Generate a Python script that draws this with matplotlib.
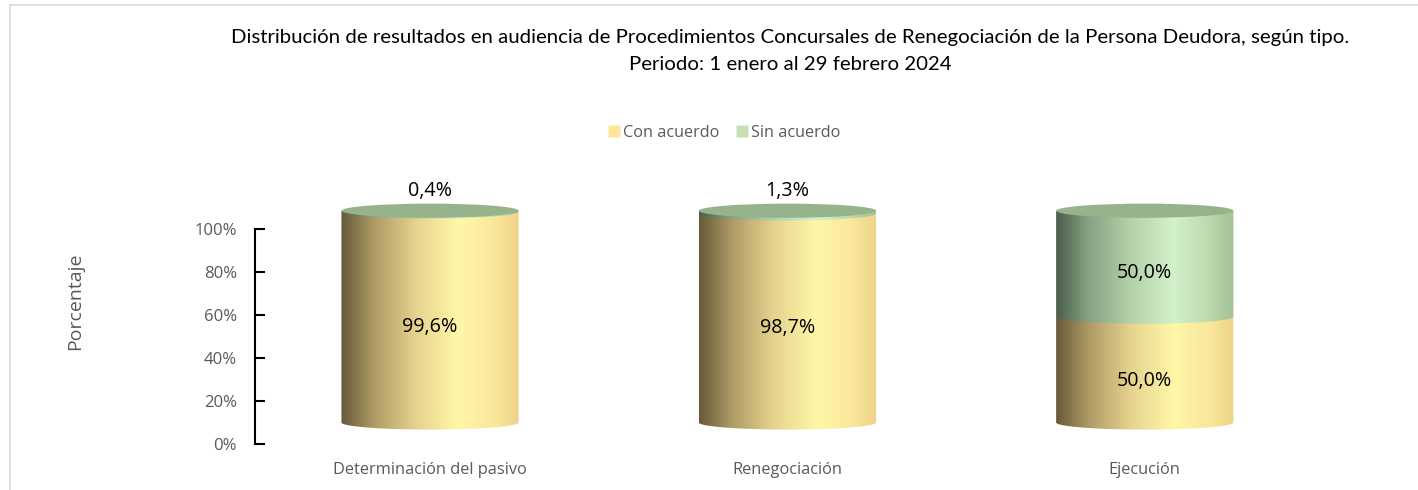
import numpy as np
import matplotlib.pyplot as plt
from matplotlib.path import Path
from matplotlib.patches import PathPatch, Ellipse
from matplotlib.colors import LinearSegmentedColormap
from matplotlib.lines import Line2D

plt.rcParams['font.family'] = ['Open Sans', 'DejaVu Sans']

# Datos
categorias = ['Determinación del pasivo', 'Renegociación', 'Ejecución']
con_acuerdo = [99.6, 98.7, 50.0]
sin_acuerdo = [0.4, 1.3, 50.0]
series = ['Con acuerdo', 'Sin acuerdo']
etiquetas_con = ['99,6%', '98,7%', '50,0%']
etiquetas_sin = ['0,4%', '1,3%', '50,0%']
ticks_y = [0, 20, 40, 60, 80, 100]

# Colores (gradiente horizontal tipo cilindro de Excel)
grad_amarillo = LinearSegmentedColormap.from_list('am', [
    (0.0, '#665a3a'), (0.18, '#ad9a65'), (0.42, '#e6d38e'),
    (0.66, '#fff7a8'), (0.85, '#fbe89c'), (1.0, '#eed489')])
grad_verde = LinearSegmentedColormap.from_list('ve', [
    (0.0, '#4a5e4b'), (0.18, '#86a283'), (0.42, '#b4d1a9'),
    (0.66, '#d3f1cb'), (0.85, '#bedbb0'), (1.0, '#a2c194')])
tapa_verde = '#97b38b'
leg_colores = ['#ffe699', '#c5e0b4']

fig = plt.figure(figsize=(14.18, 4.9), dpi=100)
ax = fig.add_axes([0.1798, 0.0939, 0.751, 0.5388])

x = np.arange(len(categorias))
ancho = 0.496          # ancho del cilindro (unidades de x)
b = 3.3                # semi-alto de la elipse (unidades de y)
desp = 10.0            # desplazamiento de profundidad 3D
esc = 0.985

gradiente = np.linspace(0, 1, 256).reshape(1, -1)


def segmento(xc, y0, y1, cmap):
    a = ancho / 2
    t = np.linspace(np.pi, 2 * np.pi, 60)
    pts = np.column_stack([xc + a * np.cos(t), y0 + b * np.sin(t)])
    pts = np.vstack([pts, [xc + a, y1], [xc - a, y1], pts[0]])
    codes = [Path.MOVETO] + [Path.LINETO] * (len(pts) - 2) + [Path.CLOSEPOLY]
    patch = PathPatch(Path(pts, codes), facecolor='none', edgecolor='none')
    ax.add_patch(patch)
    im = ax.imshow(gradiente, cmap=cmap, aspect='auto', interpolation='bicubic',
                   extent=[xc - a, xc + a, y0 - b, y1], zorder=2)
    im.set_clip_path(patch)


for i in range(len(categorias)):
    y0 = desp
    y1 = desp + con_acuerdo[i] * esc
    y2 = y1 + sin_acuerdo[i] * esc
    segmento(x[i], y0, y1, grad_amarillo)
    segmento(x[i], y1, y2, grad_verde)
    ax.add_patch(Ellipse((x[i], y2), ancho, 2 * b, facecolor=tapa_verde,
                         edgecolor='none', zorder=3))
    # etiquetas
    if sin_acuerdo[i] < 5:
        ax.text(x[i], y2 + 4.6, etiquetas_sin[i], ha='center', va='bottom',
                fontsize=14.2, color='black')
    else:
        ax.text(x[i], 4.5 + con_acuerdo[i] + sin_acuerdo[i] / 2, etiquetas_sin[i],
                ha='center', va='center', fontsize=14.2, color='black', zorder=4)
    ax.text(x[i], 4.5 + con_acuerdo[i] / 2, etiquetas_con[i], ha='center',
            va='center', fontsize=14.2, color='black', zorder=4)

ax.set_xlim(-0.49, 2.49)
ax.set_ylim(0, 122.8)
ax.set_yticks(ticks_y)
ax.set_yticklabels([f'{t}%' for t in ticks_y], fontsize=12, color='#595959')
ax.set_xticks(x)
ax.set_xticklabels(categorias, fontsize=11.8, color='#595959')
ax.tick_params(axis='x', length=0, pad=13)
ax.tick_params(axis='y', direction='in', length=7, width=1.5, color='black', pad=13)
for s in ['top', 'right', 'bottom']:
    ax.spines[s].set_visible(False)
ax.spines['left'].set_bounds(0, 100)
ax.spines['left'].set_linewidth(1.5)

fig.text(75 / 1418, 1 - 301 / 490, 'Porcentaje', rotation=90, ha='center',
         va='center', fontsize=14, color='#595959')

fig.text(790 / 1418, 1 - 37 / 490,
         'Distribución de resultados en audiencia de Procedimientos Concursales de Renegociación de la Persona Deudora, según tipo.',
         ha='center', va='center', fontsize=14.7, color='black', family=['Lato', 'DejaVu Sans'])
fig.text(790 / 1418, 1 - 65 / 490, 'Periodo: 1 enero al 29 febrero 2024',
         ha='center', va='center', fontsize=14.7, color='black', family=['Lato', 'DejaVu Sans'])

handles = [Line2D([], [], marker='s', linestyle='none', markersize=9,
                  markerfacecolor=c, markeredgecolor='none') for c in leg_colores]
fig.legend(handles, series, loc='center', bbox_to_anchor=(723 / 1418, 1 - 133 / 490),
           ncol=2, frameon=False, fontsize=11.7, labelcolor='#595959',
           handletextpad=0.05, columnspacing=0.9, handlelength=1.0)

# marco del gráfico
fig.add_artist(Line2D([10 / 1418, 1], [1 - 5 / 490] * 2, color='#d9d9d9', lw=1.2))
fig.add_artist(Line2D([10 / 1418] * 2, [1 - 5 / 490, 0], color='#d9d9d9', lw=1.2))

fig.savefig('out.png', dpi=100)
